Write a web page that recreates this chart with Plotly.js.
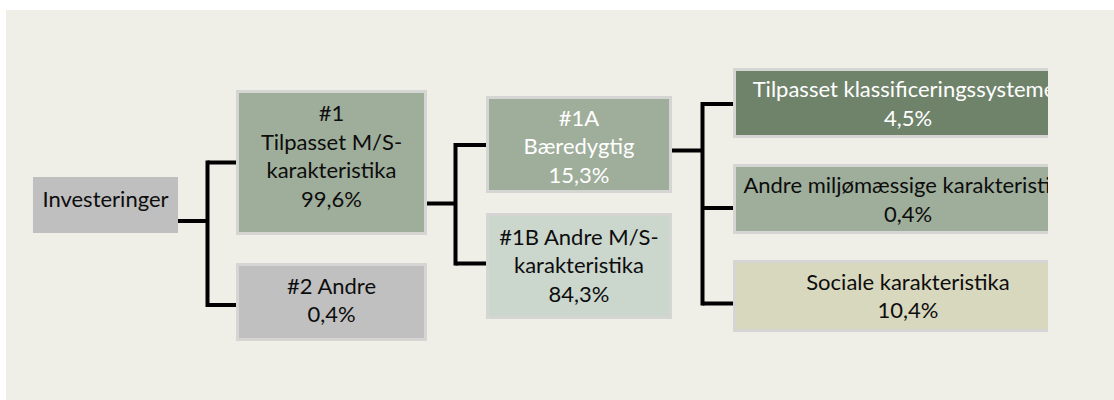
<!DOCTYPE html>
<html>
<head>
<meta charset="utf-8">
<script src="https://cdn.plot.ly/plotly-3.0.1.min.js"></script>
<style>
  html, body { margin: 0; padding: 0; background: #ffffff; }
  #chart { width: 1114px; height: 400px; }
</style>
</head>
<body>
<div id="chart"></div>
<script>
// ---- Data ----
const nodeNames = [
  "Investeringer",
  "#1<br>Tilpasset M/S-<br>karakteristika",
  "#2 Andre",
  "#1A<br>Bæredygtig",
  "#1B Andre M/S-<br>karakteristika",
  "Tilpasset klassificeringssystemer",
  "Andre miljømæssige karakteristika",
  "Sociale karakteristika"
];
const nodeShares = [null, 99.6, 0.4, 15.3, 84.3, 4.5, 0.4, 10.4];
const nodeParents = [null, 0, 0, 1, 1, 3, 3, 3];

// ---- Layout of the diagram (positions / styles, pixel space) ----
const boxX0 = [33, 237.5, 237.5, 487.5, 487.5, 734.5, 734.5, 734.5];
const boxX1 = [178, 425.5, 425.5, 670.5, 670.5, 1070, 1070, 1070];
const boxY0 = [177, 91.5, 264.5, 97.5, 214.5, 69.5, 165.5, 261.5];
const boxY1 = [233, 233.5, 339.5, 191.5, 317.5, 136.5, 232.5, 330.5];
const boxFill = ["#bfbfbf", "#9fae9b", "#c0c0c0", "#9fae9b", "#cbd6cd", "#6f836b", "#9fae9b", "#d8d8bf"];
const boxBorder = [0, 3, 3, 3, 3, 3, 3, 3];
const textX = [105.5, 331.5, 331.5, 579, 579, 908, 908, 908];
const textY = [201, 158.5, 302.5, 149, 268, 106, 202, 298.5];
const textColor = ["#0d0d0d", "#0d0d0d", "#0d0d0d", "#ffffff", "#0d0d0d", "#ffffff", "#0d0d0d", "#0d0d0d"];

// connector geometry per parent: junction x, parent y, child ys
const connParent = [0, 1, 3];
const connJunctionX = [207.5, 455.5, 702.5];
const connParentY = [221, 203.5, 150.5];
const connChildY = { 0: [162.5, 305], 1: [145, 263.5], 3: [104, 208, 303.5] };

function fmtShare(v) { return v.toFixed(1).replace('.', ',') + '%'; }
const nodeText = nodeNames.map((n, i) => nodeShares[i] === null ? n : n + '<br>' + fmtShare(nodeShares[i]));

// shapes: background and boxes
const shapes = [{
  type: 'rect', xref: 'paper', yref: 'paper', x0: 6/1114, x1: 1, y0: 0, y1: 390/400,
  fillcolor: '#efeee7', line: { width: 0 }, layer: 'below'
}];
for (let i = 0; i < nodeNames.length; i++) {
  shapes.push({
    type: 'rect', xref: 'x', yref: 'y',
    x0: boxX0[i], x1: boxX1[i], y0: boxY0[i], y1: boxY1[i],
    fillcolor: boxFill[i],
    line: { color: '#d5d5d3', width: boxBorder[i] },
    layer: 'below'
  });
}

// connectors
const lx = [], ly = [];
connParent.forEach((p, k) => {
  const jx = connJunctionX[k];
  lx.push(boxX1[p] + boxBorder[p] / 2, jx, null);
  ly.push(connParentY[k], connParentY[k], null);
  const cys = connChildY[p];
  lx.push(jx, jx, null);
  ly.push(Math.min(...cys) - 2, Math.max(...cys) + 2, null);
  const kids = nodeParents.map((q, i) => q === p ? i : -1).filter(i => i >= 0);
  kids.forEach((c, j) => {
    lx.push(jx, boxX0[c] - boxBorder[c] / 2, null);
    ly.push(cys[j], cys[j], null);
  });
});

const traces = [
  {
    type: 'scatter', mode: 'lines', x: lx, y: ly,
    line: { color: '#000000', width: 4 },
    hoverinfo: 'skip', showlegend: false, connectgaps: false
  },
  {
    type: 'scatter', mode: 'text', x: textX, y: textY, text: nodeText,
    textposition: 'middle center',
    textfont: { family: 'Lato, sans-serif', size: 22, color: textColor },
    hoverinfo: 'skip', showlegend: false, cliponaxis: true
  }
];

const layout = {
  width: 1114, height: 400,
  margin: { l: 0, r: 0, t: 0, b: 0 },
  paper_bgcolor: '#ffffff',
  plot_bgcolor: 'rgba(0,0,0,0)',
  xaxis: { domain: [0, 1048/1114], range: [0, 1048], visible: false, fixedrange: true },
  yaxis: { domain: [0, 1], range: [400, 0], visible: false, fixedrange: true },
  shapes: shapes,
  showlegend: false
};

Plotly.newPlot('chart', traces, layout, { displayModeBar: false, staticPlot: true });
</script>
</body>
</html>
